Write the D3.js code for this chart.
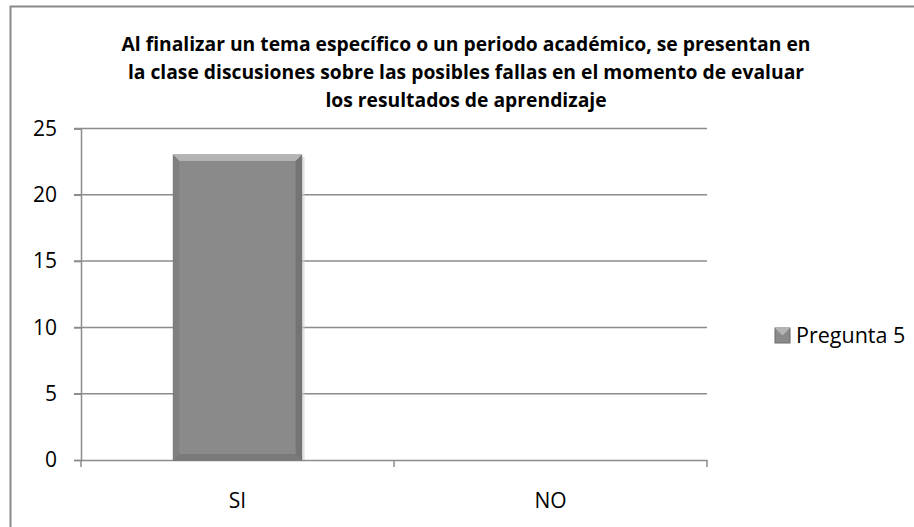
<!DOCTYPE html>
<html>
<head>
<meta charset="utf-8">
<title>Pregunta 5</title>
<script src="https://cdn.jsdelivr.net/npm/d3@7"></script>
<style>
  body { margin: 0; background: #fff; }
  text { font-family: "Open Sans", Lato, sans-serif; fill: #000; }
</style>
</head>
<body>
<svg id="chart" width="914" height="527"></svg>
<script>
const categories = ["SI", "NO"];
const values = [23, 0];
const seriesName = "Pregunta 5";
const yTicks = [0, 5, 10, 15, 20, 25];
const titleLines = [
  "Al finalizar un tema específico o un periodo académico, se presentan en",
  "la clase discusiones sobre las posibles fallas en el momento de evaluar",
  "los resultados de aprendizaje"
];

const svg = d3.select("#chart");
const plotLeft = 81, plotRight = 707, plotTop = 128.5, plotBottom = 460;
const font = "'Open Sans', Lato, sans-serif";

// outer chart border (right and bottom are off the picture)
svg.append("rect").attr("x", 10.5).attr("y", 6.5).attr("width", 940).attr("height", 600)
  .attr("fill", "none").attr("stroke", "#8a8a8a").attr("stroke-width", 2);

svg.selectAll(".title").data(titleLines).enter().append("text")
  .attr("class", "title")
  .attr("x", 466).attr("y", (d, i) => 50.5 + i * 28.3)
  .attr("text-anchor", "middle").attr("font-size", 19.3).attr("font-weight", "bold")
  .text(d => d);

const x = d3.scaleBand().domain(categories).range([plotLeft, plotRight]).paddingInner(0).paddingOuter(0);
const y = d3.scaleLinear().domain([0, 25]).range([plotBottom, plotTop]);

// gridlines
svg.append("g").selectAll("line").data(yTicks.filter(d => d > 0)).enter().append("line")
  .attr("x1", plotLeft - 7).attr("x2", plotRight)
  .attr("y1", d => y(d)).attr("y2", d => y(d))
  .attr("stroke", "#8c8c8c").attr("stroke-width", 1.5);

// y axis
const yAxis = svg.append("g").attr("transform", `translate(${plotLeft},0)`)
  .call(d3.axisLeft(y).tickValues(yTicks).tickSize(7).tickPadding(17));
yAxis.select(".domain").attr("stroke", "#8c8c8c").attr("stroke-width", 1.5);
yAxis.selectAll(".tick line").attr("stroke", "#8c8c8c").attr("stroke-width", 1.5);
yAxis.selectAll("text").attr("font-size", 21).attr("font-family", font).attr("fill", "#000");

// x axis
const xAxis = svg.append("g").attr("transform", `translate(0,${plotBottom})`)
  .call(d3.axisBottom(x).tickSize(0).tickPadding(33));
xAxis.select(".domain").attr("stroke", "#8c8c8c").attr("stroke-width", 1.5);
xAxis.selectAll("text").attr("font-size", 21).attr("font-family", font).attr("fill", "#000");
svg.append("g").selectAll("line").data([plotLeft, plotLeft + x.step(), plotRight]).enter().append("line")
  .attr("x1", d => d).attr("x2", d => d).attr("y1", plotBottom).attr("y2", plotBottom + 7)
  .attr("stroke", "#8c8c8c").attr("stroke-width", 1.5);

// bars with bevel
const bw = x.bandwidth() * 0.41;
const bev = 6;
const barData = categories.map((c, i) => ({c, v: values[i]})).filter(d => d.v > 0);
const bx0 = d => x(d.c) + (x.bandwidth() - bw) / 2;
const bars = svg.append("g").selectAll("g").data(barData).enter().append("g");
bars.append("rect")
  .attr("x", d => bx0(d) + 3).attr("y", d => y(d.v) + 2)
  .attr("width", bw).attr("height", d => plotBottom - y(d.v) - 2)
  .attr("fill", "#d0d0d0").attr("opacity", 0.6);
bars.append("rect")
  .attr("x", bx0).attr("y", d => y(d.v))
  .attr("width", bw).attr("height", d => plotBottom - y(d.v))
  .attr("fill", "#8a8a8a").attr("stroke", "#6a6a6a").attr("stroke-width", 1);
bars.append("polygon").attr("points", d => {
  const x0 = bx0(d), x1 = x0 + bw, y0 = y(d.v);
  return [[x0, y0], [x1, y0], [x1 - bev, y0 + bev], [x0 + bev, y0 + bev]].join(" ");
}).attr("fill", "#b4b4b4");
bars.append("polygon").attr("points", d => {
  const x0 = bx0(d), x1 = x0 + bw, y0 = y(d.v);
  return [[x1, y0], [x1, plotBottom], [x1 - bev, plotBottom - bev], [x1 - bev, y0 + bev]].join(" ");
}).attr("fill", "#747474");
bars.append("polygon").attr("points", d => {
  const x0 = bx0(d), x1 = x0 + bw;
  return [[x0, plotBottom], [x1, plotBottom], [x1 - bev, plotBottom - bev], [x0 + bev, plotBottom - bev]].join(" ");
}).attr("fill", "#7a7a7a");
bars.append("polygon").attr("points", d => {
  const x0 = bx0(d), y0 = y(d.v);
  return [[x0, y0], [x0 + bev, y0 + bev], [x0 + bev, plotBottom - bev], [x0, plotBottom]].join(" ");
}).attr("fill", "#808080");

// legend
const lg = svg.append("g").attr("transform", "translate(775,328)");
lg.append("rect").attr("width", 15).attr("height", 15).attr("fill", "#8a8a8a").attr("stroke", "#6a6a6a");
lg.append("polygon").attr("points", "0,0 15,0 7.5,7.5").attr("fill", "#b4b4b4");
lg.append("text").attr("x", 21).attr("y", 14.5).attr("font-size", 21.5).text(seriesName);
</script>
</body>
</html>
